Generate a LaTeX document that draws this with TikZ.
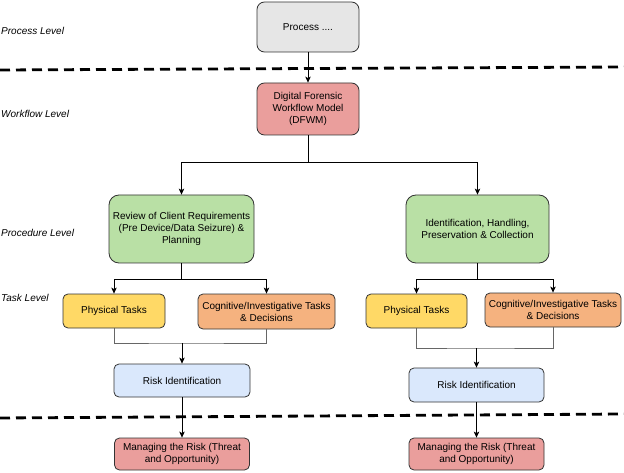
\documentclass[tikz,border=0pt]{standalone}
\usepackage{fontspec}
\setmainfont{Liberation Sans}
\usetikzlibrary{arrows.meta}
\definecolor{procfill}{HTML}{E6E6E6}
\definecolor{redfill}{HTML}{EA9E9C}
\definecolor{greenfill}{HTML}{B9E0A5}
\definecolor{yellowfill}{HTML}{FFD966}
\definecolor{orangefill}{HTML}{F5B27F}
\definecolor{bluefill}{HTML}{DAE8FC}
\definecolor{edgegray}{HTML}{333333}
\definecolor{joingray}{HTML}{666666}
\tikzset{
  box/.style={draw=edgegray, line width=0.8pt, align=center, inner sep=1pt,
    font=\fontsize{10}{12}\selectfont},
  lvl/.style={anchor=west, inner sep=0pt, font=\fontsize{10}{12}\selectfont\itshape},
  arr/.style={draw=black, line width=0.8pt, -{Stealth[length=6pt,width=5.5pt,inset=1.5pt]}},
  joinline/.style={draw=joingray, line width=0.8pt},
  dashline/.style={draw=black, line width=2.8pt, dash pattern=on 10pt off 6pt},
}
\begin{document}
\begin{tikzpicture}[x=1pt, y=-1pt]
\useasboundingbox (0,0) rectangle (624,473);
% level separators
\draw[dashline] (0,70) -- (624,67);
\draw[dashline] (0,418) -- (624,414);
% level labels
\node[lvl] (lproc) at (1,31) {Process Level};
\node[lvl] (lwork) at (1,114) {Workflow Level};
\node[lvl] (lprocd) at (1,233) {Procedure Level};
\node[lvl] (ltask) at (1,298) {Task Level};
% boxes
\node[box, fill=procfill, rounded corners=7.5pt, minimum width=102pt, minimum height=50pt] (proc) at (308,27) {Process ....};
\node[box, fill=redfill, rounded corners=7.5pt, minimum width=102pt, minimum height=52pt] (dfwm) at (308,109) {Digital Forensic\\Workflow Model\\(DFWM)};
\node[box, fill=greenfill, rounded corners=10pt, minimum width=145pt, minimum height=68pt] (rev) at (181.5,229) {Review of Client Requirements\\(Pre Device/Data Seizure) \&\\Planning};
\node[box, fill=greenfill, rounded corners=10pt, minimum width=143pt, minimum height=68pt] (ident) at (477.5,229) {Identification, Handling,\\Preservation \& Collection};
\node[box, fill=yellowfill, rounded corners=5pt, minimum width=102pt, minimum height=34pt] (phys1) at (114,311) {Physical Tasks};
\node[box, fill=orangefill, rounded corners=5pt, minimum width=137pt, minimum height=35pt] (cog1) at (266.5,311.5) {Cognitive/Investigative Tasks\\\& Decisions};
\node[box, fill=yellowfill, rounded corners=5pt, minimum width=101pt, minimum height=34pt] (phys2) at (416.5,311) {Physical Tasks};
\node[box, fill=orangefill, rounded corners=5pt, minimum width=136pt, minimum height=34pt] (cog2) at (553,310) {Cognitive/Investigative Tasks\\\& Decisions};
\node[box, fill=bluefill, rounded corners=5pt, minimum width=136pt, minimum height=33pt] (risk1) at (182,380.5) {Risk Identification};
\node[box, fill=bluefill, rounded corners=5pt, minimum width=135pt, minimum height=34pt] (risk2) at (476.5,385) {Risk Identification};
\node[box, fill=redfill, rounded corners=5pt, minimum width=135pt, minimum height=32pt] (man1) at (182,454) {Managing the Risk (Threat\\and Opportunity)};
\node[box, fill=redfill, rounded corners=5pt, minimum width=135pt, minimum height=32pt] (man2) at (476.5,454) {Managing the Risk (Threat\\and Opportunity)};
% connectors
\coordinate (j1) at (308,162);
\coordinate (j2) at (181.5,279);
\coordinate (j3) at (477.5,279);
\coordinate (k1) at (182,343);
\coordinate (k2) at (476.5,348);
\draw[arr] (proc) -- (dfwm);
\draw[arr] (dfwm.south) -- (j1) -| (rev.north);
\draw[arr] (j1) -| (ident.north);
\draw[arr] (rev.south) -- (j2) -| (phys1.north);
\draw[arr] (j2) -| (cog1.north);
\draw[arr] (ident.south) -- (j3) -| (phys2.north);
\draw[arr] (j3) -| (cog2.north);
\draw[joinline] (phys1.south) |- (k1) -| (cog1.south);
\draw[joinline] (phys2.south) |- (k2) -| (cog2.south);
\draw[arr] (k1) -- (risk1.north);
\draw[arr] (k2) -- (risk2.north);
\draw[arr] (risk1) -- (man1);
\draw[arr] (risk2) -- (man2);
\end{tikzpicture}
\end{document}
